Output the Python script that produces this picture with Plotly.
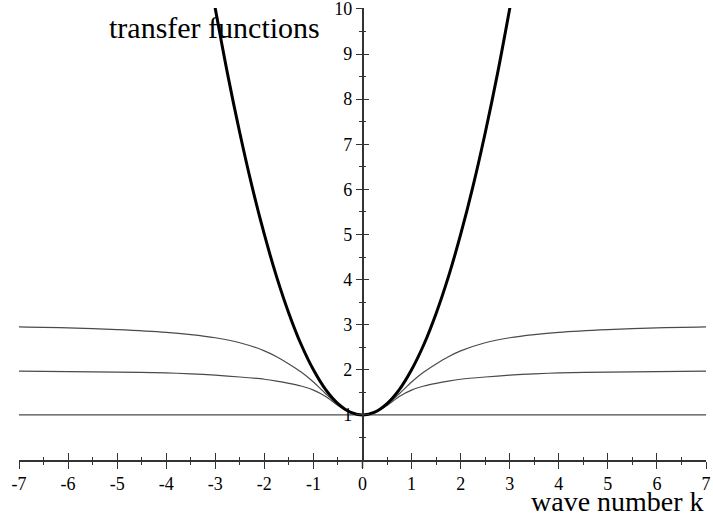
import plotly.graph_objects as go

# values
k_thick = [-3.1, -2.75, -2.5, -2.25, -2.0, -1.75, -1.5, -1.25, -1.0, -0.75, -0.5, -0.25,
           0.0, 0.25, 0.5, 0.75, 1.0, 1.25, 1.5, 1.75, 2.0, 2.25, 2.5, 2.75, 3.1]
y_thick = [10.6, 8.56, 7.25, 6.06, 5.0, 4.06, 3.25, 2.56, 2.0, 1.56, 1.25, 1.06,
           1.0, 1.06, 1.25, 1.56, 2.0, 2.56, 3.25, 4.06, 5.0, 6.06, 7.25, 8.56, 10.6]

k_thin = [-7, -6, -5, -4, -3.5, -3, -2.5, -2, -1.75, -1.5, -1.25, -1, -0.75, -0.5, -0.25,
          0, 0.25, 0.5, 0.75, 1, 1.25, 1.5, 1.75, 2, 2.5, 3, 3.5, 4, 5, 6, 7]
y_upper = [2.95, 2.93, 2.89, 2.83, 2.78, 2.71, 2.60, 2.42, 2.29, 2.13, 1.95, 1.73, 1.47, 1.23, 1.06,
           1.0, 1.06, 1.23, 1.47, 1.73, 1.95, 2.13, 2.29, 2.42, 2.60, 2.71, 2.78, 2.83, 2.89, 2.93, 2.95]
y_lower = [1.97, 1.96, 1.95, 1.93, 1.91, 1.88, 1.84, 1.79, 1.75, 1.70, 1.64, 1.55, 1.41, 1.21, 1.05,
           1.0, 1.05, 1.21, 1.41, 1.55, 1.64, 1.70, 1.75, 1.79, 1.84, 1.88, 1.91, 1.93, 1.95, 1.96, 1.97]
k_flat = [-7, 7]
y_flat = [1, 1]

x_ticks = list(range(-7, 8))
y_ticks = list(range(1, 11))

SERIF = "Liberation Serif, Times New Roman, serif"
AX = "#333333"

fig = go.Figure()
for xx, yy in ((k_flat, y_flat), (k_thin, y_lower), (k_thin, y_upper)):
    fig.add_trace(go.Scatter(x=xx, y=yy, mode="lines", line_shape="spline",
                             line=dict(color="#4a4a4a", width=1.2, smoothing=0.8),
                             showlegend=False, hoverinfo="skip"))
fig.add_trace(go.Scatter(x=k_thick, y=y_thick, mode="lines", line_shape="spline",
                         line=dict(color="black", width=3),
                         showlegend=False, hoverinfo="skip"))
# dummy trace so the overlay axes (the inner half of the ticks) get drawn
fig.add_trace(go.Scatter(x=[None], y=[None], xaxis="x2", yaxis="y2",
                         showlegend=False, hoverinfo="skip"))

tickfont = dict(family=SERIF, size=18, color="black")
x_common = dict(range=[-7, 7], tickvals=x_ticks, ticktext=[str(v) for v in x_ticks],
                showgrid=False, zeroline=False, automargin=False,
                showline=True, linecolor=AX, linewidth=1.5,
                ticklen=7, tickwidth=1.2, tickcolor=AX,
                minor=dict(tick0=0, dtick=0.5, ticklen=3, tickwidth=1, tickcolor=AX))
y_common = dict(range=[0, 10.02], tickvals=y_ticks, ticktext=[str(v) for v in y_ticks],
                showgrid=False, zeroline=False, automargin=False,
                showline=True, linecolor=AX, linewidth=1.5,
                anchor="free", position=0.5,
                ticklen=6, tickwidth=1.2, tickcolor=AX,
                minor=dict(tick0=0, dtick=0.5, ticklen=3, tickwidth=1, tickcolor=AX))

fig.update_layout(
    width=713, height=518,
    margin=dict(l=19, r=7, t=8, b=58),
    paper_bgcolor="white", plot_bgcolor="white",
    xaxis=dict(**x_common, ticks="outside", tickfont=tickfont,
               minor_ticks="outside", ticklabeloverflow="allow"),
    xaxis2=dict(**x_common, ticks="inside", showticklabels=False,
                overlaying="x", anchor="y", minor_ticks="inside"),
    yaxis=dict(**y_common, ticks="outside", tickfont=tickfont,
               minor_ticks="outside", ticklabeloverflow="allow"),
    yaxis2=dict(**y_common, ticks="inside", showticklabels=False,
                overlaying="y", minor_ticks="inside"),
    # the vertical axis pokes a little below the horizontal one
    shapes=[dict(type="line", xref="paper", yref="paper", x0=0.5, x1=0.5,
                 y0=-0.018, y1=0, line=dict(color=AX, width=1.5))],
    annotations=[
        dict(text="transfer functions", xref="paper", yref="paper",
             x=0.441, y=0.956, xanchor="right", yanchor="middle", showarrow=False,
             font=dict(family=SERIF, size=30, color="black")),
        dict(text="wave number k", xref="paper", yref="paper",
             x=1.0, y=-0.092, xanchor="right", yanchor="middle", showarrow=False,
             font=dict(family=SERIF, size=28, color="black")),
    ],
)

# drop the default page margin so the figure sits at the window's corner
fig.write_html("out.html", config={"displayModeBar": False},
               post_script="document.body.style.margin='0';")
